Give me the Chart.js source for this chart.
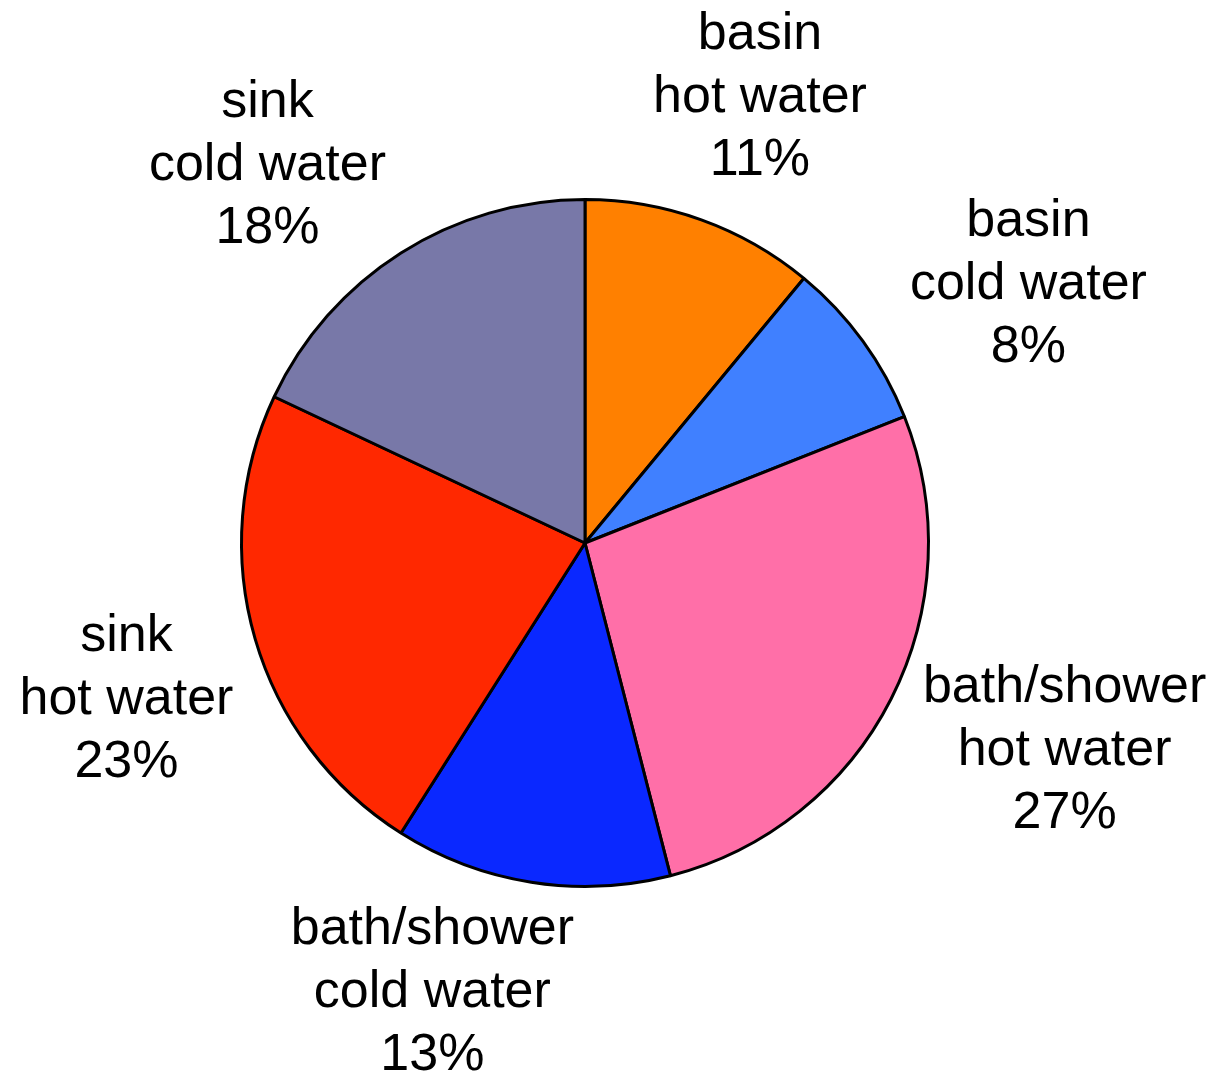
<!DOCTYPE html>
<html>
<head>
<meta charset="utf-8">
<script src="https://cdn.jsdelivr.net/npm/chart.js@4/dist/chart.umd.min.js"></script>
<style>
  html, body { margin: 0; padding: 0; background: #ffffff; }
  #wrap { width: 1226px; height: 1076px; position: relative; }
</style>
</head>
<body>
<div id="wrap"><canvas id="c" width="1226" height="1076"></canvas></div>
<script>
// ---- data ----
const categories = [
  ["basin", "hot water"],
  ["basin", "cold water"],
  ["bath/shower", "hot water"],
  ["bath/shower", "cold water"],
  ["sink", "hot water"],
  ["sink", "cold water"]
];
const shares = [11, 8, 27, 13, 23, 18];
const percentLabels = ["11%", "8%", "27%", "13%", "23%", "18%"];

// ---- style ----
const sliceColors = ["#FF8000", "#4080FF", "#FF6FA8", "#0A28FF", "#FF2800", "#7878A8"];
const labelRadius = 490;
const labelNudge = [[9, 16], [47, 30], [43, -15], [-76, -34], [12, 20], [-55, 36]];
const fontSize = 52;
const lineHeight = 63;

const outsideLabels = {
  id: 'outsideLabels',
  afterDatasetsDraw(chart) {
    const ctx = chart.ctx;
    const meta = chart.getDatasetMeta(0);
    ctx.save();
    ctx.fillStyle = '#000000';
    ctx.font = fontSize + 'px "Liberation Sans", Arial, sans-serif';
    ctx.textAlign = 'center';
    ctx.textBaseline = 'middle';
    meta.data.forEach((arc, i) => {
      const mid = (arc.startAngle + arc.endAngle) / 2;
      const cx = arc.x + Math.cos(mid) * labelRadius + labelNudge[i][0];
      const cy = arc.y + Math.sin(mid) * labelRadius + labelNudge[i][1];
      const lines = categories[i].concat([percentLabels[i]]);
      const top = cy - (lines.length - 1) * lineHeight / 2;
      lines.forEach((t, k) => ctx.fillText(t, cx, top + k * lineHeight));
    });
    ctx.restore();
  }
};

new Chart(document.getElementById('c'), {
  type: 'pie',
  data: {
    labels: categories.map(c => c.join(' ')),
    datasets: [{
      data: shares,
      backgroundColor: sliceColors,
      borderColor: '#000000',
      borderWidth: 3
    }]
  },
  options: {
    responsive: false,
    animation: false,
    layout: { padding: { left: 240, right: 296, top: 198, bottom: 188 } },
    plugins: { legend: { display: false }, tooltip: { enabled: false } }
  },
  plugins: [outsideLabels]
});
</script>
</body>
</html>
